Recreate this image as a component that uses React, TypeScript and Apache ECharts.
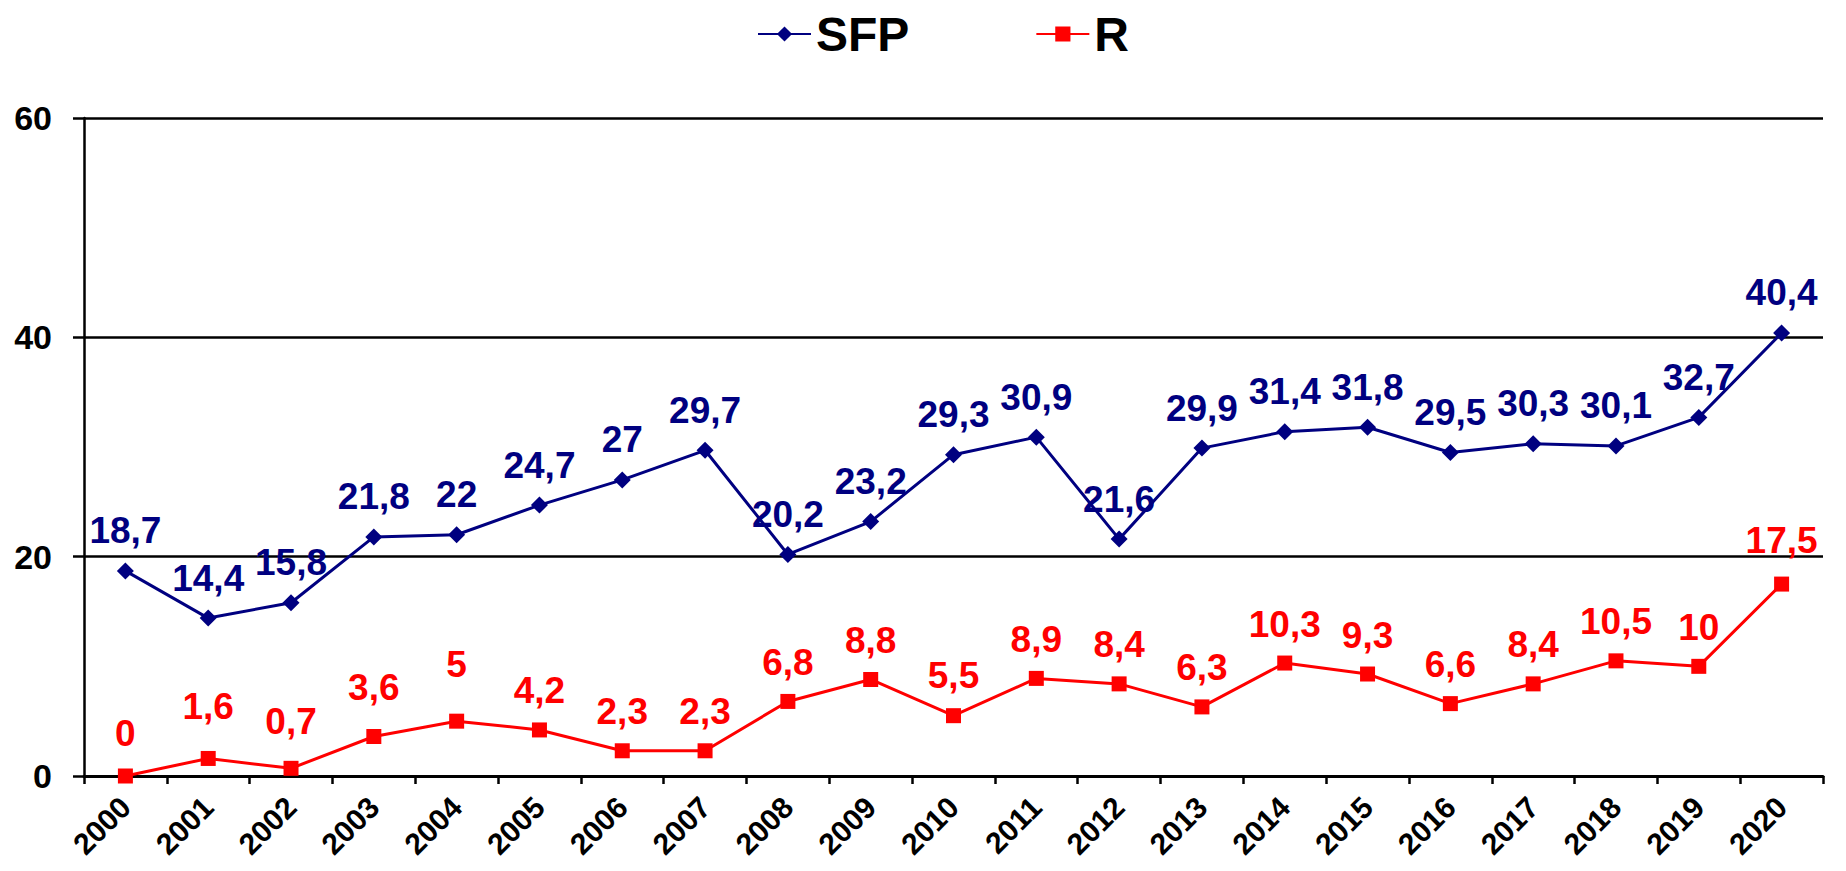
import React, { useEffect, useRef } from "react";
import * as echarts from "echarts";

const years = [
  "2000", "2001", "2002", "2003", "2004", "2005", "2006", "2007", "2008", "2009", "2010",
  "2011", "2012", "2013", "2014", "2015", "2016", "2017", "2018", "2019", "2020",
];
const sfpValues = [
  18.7, 14.4, 15.8, 21.8, 22, 24.7, 27, 29.7, 20.2, 23.2, 29.3,
  30.9, 21.6, 29.9, 31.4, 31.8, 29.5, 30.3, 30.1, 32.7, 40.4,
];
const rValues = [
  0, 1.6, 0.7, 3.6, 5, 4.2, 2.3, 2.3, 6.8, 8.8, 5.5,
  8.9, 8.4, 6.3, 10.3, 9.3, 6.6, 8.4, 10.5, 10, 17.5,
];
// extra lift (px) of individual R labels, as placed in the original
const rLabelExtraLift = [4, 13, 8, 10, 18, 0, 0, 0, 0, 0, 1, 0, 0, 0, 0, 0, 0, 0, 0, 0, 5];

const FONT = '"Liberation Sans", Arial, Helvetica, sans-serif';
const NAVY = "#000080";
const RED = "#ff0000";
const fmt = (v: number) => String(v).replace(".", ",");

export default function App() {
  const ref = useRef<HTMLDivElement>(null);
  useEffect(() => {
    const chart = echarts.init(ref.current!, null, { renderer: "svg" });
    chart.setOption({
      animation: false,
      backgroundColor: "#ffffff",
      legend: {
        top: 5,
        left: 752,
        itemWidth: 53,
        itemHeight: 19,
        itemGap: 126,
        textStyle: { fontFamily: FONT, fontSize: 48, fontWeight: "bold", color: "#000" },
        data: ["SFP", "R"],
      },
      grid: { left: 84, right: 23, top: 118, bottom: 95, containLabel: false },
      xAxis: {
        type: "category",
        data: years,
        boundaryGap: true,
        axisLine: { show: true, lineStyle: { color: "#000", width: 3 } },
        axisTick: { show: true, length: 8, lineStyle: { color: "#000", width: 2.5 } },
        axisLabel: {
          interval: 0,
          rotate: 45,
          margin: 26,
          fontSize: 30,
          fontWeight: "bold",
          color: "#000",
          fontFamily: FONT,
        },
      },
      yAxis: {
        type: "value",
        min: 0,
        max: 60,
        interval: 20,
        axisLine: { show: true, lineStyle: { color: "#000", width: 2.5 } },
        axisTick: { show: true, length: 11, lineStyle: { color: "#000", width: 2.5 } },
        splitLine: { show: true, lineStyle: { color: "#000", width: 2.5 } },
        axisLabel: {
          margin: 32,
          fontSize: 34,
          fontWeight: "bold",
          color: "#000",
          fontFamily: FONT,
        },
      },
      series: [
        {
          name: "SFP",
          type: "line",
          data: sfpValues,
          color: NAVY,
          symbol: "diamond",
          symbolSize: 17,
          lineStyle: { width: 3, color: NAVY },
          itemStyle: { color: NAVY },
          label: {
            show: true,
            position: "top",
            distance: 13,
            formatter: (p: any) => fmt(p.value),
            color: NAVY,
            fontSize: 37,
            fontWeight: "bold",
            fontFamily: FONT,
          },
        },
        {
          name: "R",
          type: "line",
          data: rValues.map((v, i) => ({ value: v, label: { distance: 13 + rLabelExtraLift[i] } })),
          color: RED,
          symbol: "rect",
          symbolSize: 15,
          lineStyle: { width: 3, color: RED },
          itemStyle: { color: RED },
          label: {
            show: true,
            position: "top",
            distance: 13,
            formatter: (p: any) => fmt(p.value),
            color: RED,
            fontSize: 37,
            fontWeight: "bold",
            fontFamily: FONT,
          },
        },
      ],
    });
    return () => chart.dispose();
  }, []);
  return (
    <div
      ref={ref}
      style={{ position: "fixed", left: 0, top: 0, width: 1846, height: 871, background: "#fff" }}
    />
  );
}
